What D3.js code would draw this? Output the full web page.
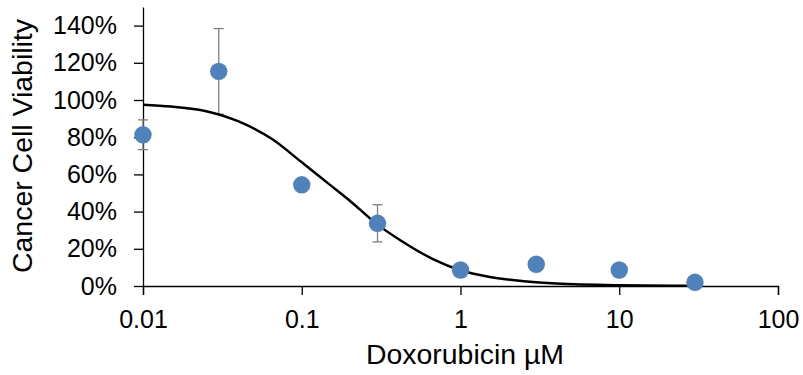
<!DOCTYPE html>
<html>
<head>
<meta charset="utf-8">
<script src="https://cdn.jsdelivr.net/npm/d3@7"></script>
<style>
  body { margin: 0; background: #fff; }
  svg { display: block; font-family: "Liberation Sans", Arial, sans-serif; }
  .axis path, .axis line { stroke: #000; stroke-width: 1.3; }
  .axis text { font-size: 25px; fill: #000; }
  .title { font-size: 27px; fill: #000; }
</style>
</head>
<body>
<svg id="chart"></svg>
<script>
// measured doses (µM) and mean viability (%)
var concentrations = [0.01, 0.03, 0.1, 0.3, 1, 3, 10, 30];
var viability = [81.3, 115.4, 54.4, 33.7, 8.6, 11.7, 8.6, 2.0];
var errors = [8, 23, 3, 10, 2, 2, 2, 1];

// fitted dose-response curve
var fitConc = [0.01, 0.015, 0.025, 0.04, 0.065, 0.1, 0.15, 0.2, 0.3, 0.42, 0.67, 1, 1.5, 2.5, 4, 10, 30];
var fitViability = [97.5, 96.5, 94, 88.5, 79, 66.5, 54.5, 46, 33, 24.5, 14.5, 8.5, 5, 2.6, 1.3, 0.4, 0.1];

var xTicks = [0.01, 0.1, 1, 10, 100];
var yTicks = [0, 20, 40, 60, 80, 100, 120, 140];

document.addEventListener('DOMContentLoaded', () => {
  var size = { width: 803, height: 375, margin: { top: 7, right: 25, bottom: 89, left: 143 } };
  var margin = size.margin;
  var width = size.width - margin.left - margin.right;
  var height = size.height - margin.top - margin.bottom;

  var x = d3.scaleLog()
    .domain([0.01, 100])
    .range([0, width]);

  var y = d3.scaleLinear()
    .domain([0, 150])
    .range([height, 0]);

  var svg = d3.select('#chart')
    .attr('width', size.width)
    .attr('height', size.height);

  var chart = svg.append('g')
    .attr('transform', `translate(${ margin.left }, ${ margin.top })`);

  chart.append('g')
    .attr('class', 'axis x')
    .attr('transform', `translate(0, ${ height })`)
    .call(d3.axisBottom(x).tickValues(xTicks).tickFormat(d => String(d)).tickSize(9).tickPadding(15));

  chart.append('g')
    .attr('class', 'axis y')
    .call(d3.axisLeft(y).tickValues(yTicks).tickFormat(d => d + '%').tickSize(9).tickSizeOuter(0).tickPadding(17));

  // error bars
  var pts = concentrations.map((c, i) => ({ c: c, v: viability[i], e: errors[i] }));
  var err = chart.append('g')
    .attr('stroke', '#7f7f7f')
    .attr('stroke-width', 1.3);
  err.selectAll('.bar')
    .data(pts)
    .enter().append('line')
      .attr('x1', d => x(d.c)).attr('x2', d => x(d.c))
      .attr('y1', d => y(d.v + d.e)).attr('y2', d => y(d.v - d.e));
  ['top', 'bottom'].forEach(side => {
    err.selectAll('.cap-' + side)
      .data(pts)
      .enter().append('line')
        .attr('x1', d => x(d.c) - 5).attr('x2', d => x(d.c) + 5)
        .attr('y1', d => y(side === 'top' ? d.v + d.e : d.v - d.e))
        .attr('y2', d => y(side === 'top' ? d.v + d.e : d.v - d.e));
  });

  // fitted curve
  var line = d3.line()
    .x(d => x(d[0]))
    .y(d => y(d[1]))
    .curve(d3.curveMonotoneX);
  chart.append('path')
    .datum(fitConc.map((c, i) => [c, fitViability[i]]))
    .attr('fill', 'none')
    .attr('stroke', '#000')
    .attr('stroke-width', 2.5)
    .attr('d', line);

  chart.selectAll('.dot')
    .data(pts)
    .enter().append('circle')
      .attr('cx', d => x(d.c))
      .attr('cy', d => y(d.v))
      .attr('r', 8.7)
      .attr('fill', '#4f81bd');

  svg.append('text')
    .attr('class', 'title')
    .attr('x', 465)
    .attr('y', 364)
    .attr('text-anchor', 'middle')
    .attr('textLength', 198)
    .attr('lengthAdjust', 'spacingAndGlyphs')
    .text('Doxorubicin µM');

  svg.append('text')
    .attr('class', 'title')
    .attr('transform', 'translate(32, 146) rotate(-90)')
    .attr('text-anchor', 'middle')
    .attr('textLength', 254)
    .attr('lengthAdjust', 'spacingAndGlyphs')
    .text('Cancer Cell Viability');
});
</script>
</body>
</html>
